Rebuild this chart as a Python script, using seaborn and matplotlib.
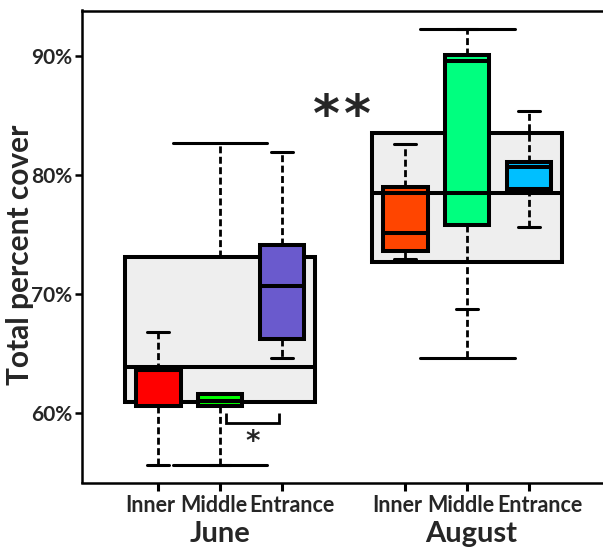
import matplotlib
matplotlib.use("Agg")
import matplotlib.pyplot as plt
import matplotlib.transforms as mtransforms
import numpy as np
import seaborn as sns
import pandas as pd

# ---------------- data (five-number summaries, % cover) ----
months = ["June", "August"]
month_pos = [1, 5]
sites = ["Inner", "Middle", "Entrance"]
site_pos = [0, 1, 2, 4, 5, 6]
site_keys = ["June Inner", "June Middle", "June Entrance",
             "August Inner", "August Middle", "August Entrance"]

# (min, q1, median, q3, max)
june_all = [55.6, 60.9, 63.85, 73.1, 82.65]
august_all = [64.6, 72.7, 78.45, 83.55, 92.3]

june_inner = [55.6, 60.6, 63.6, 63.6, 66.8]
june_middle = [55.6, 60.6, 61.0, 61.6, 61.6]
june_entrance = [64.6, 66.2, 70.7, 74.1, 81.9]
august_inner = [72.95, 73.65, 75.1, 79.0, 82.6]
august_middle = [68.75, 75.8, 89.55, 90.1, 92.3]
august_entrance = [75.65, 78.85, 80.7, 81.1, 85.4]

site_colors = ["#FF0000", "#00FF00", "#6A5ACD", "#FF4500", "#00FF7F", "#00BFFF"]
month_color = "#EEEEEE"

yticks = [60, 70, 80, 90]
ytick_labels = ["60%", "70%", "80%", "90%"]

# ---------------- tidy tables ----------------
month_df = pd.DataFrame({
    "pos": [month_pos[0]] * 5 + [month_pos[1]] * 5,
    "cover": june_all + august_all,
})
site_values = [june_inner, june_middle, june_entrance,
               august_inner, august_middle, august_entrance]
rows = []
for key, pos, vals in zip(site_keys, site_pos, site_values):
    for v in vals:
        rows.append({"pos": pos, "box": key, "cover": v})
site_df = pd.DataFrame(rows)

# ---------------- style ----------------
sns.set_theme(style="white")
plt.rcParams["font.family"] = ["Lato", "DejaVu Sans"]
plt.rcParams["font.weight"] = "bold"

DPI = 100
fig = plt.figure(figsize=(6.03, 5.49), dpi=DPI)
ax = fig.add_axes([81.5 / 603, 1 - 482.5 / 549, 1 - 81.5 / 603, 472 / 549])

LW = 2.9
WLW = 2.0
DASH = (2.5, 1.25)

sns.boxplot(data=month_df, x="pos", y="cover", native_scale=True,
            width=0.768, color=month_color, linecolor="black",
            linewidth=LW, whis=(0, 100), saturation=1, ax=ax,
            whiskerprops=dict(linestyle=(0, DASH), linewidth=WLW),
            capprops=dict(linewidth=2.2),
            medianprops=dict(linewidth=LW))
n_month_lines = len(ax.lines)

sns.boxplot(data=site_df, x="pos", y="cover", hue="box", native_scale=True,
            palette=dict(zip(site_keys, site_colors)), hue_order=site_keys,
            dodge=False, width=0.72, linecolor="black", linewidth=LW,
            whis=(0, 100), saturation=1, legend=False, ax=ax,
            whiskerprops=dict(linestyle=(0, DASH), linewidth=WLW),
            capprops=dict(linewidth=2.2),
            medianprops=dict(linewidth=LW))

ax.set_xlim(-1.243, 7.20)
ax.set_ylim(54.16, 93.82)

# --- where a site whisker lies on a month whisker, keep only one dashed line --
def is_whisker(line):
    x, y = np.asarray(line.get_xdata(), float), np.asarray(line.get_ydata(), float)
    return len(x) == 2 and np.isclose(x[0], x[1]) and not np.isclose(y[0], y[1])

month_wh = [l for l in ax.lines[:n_month_lines] if is_whisker(l)]
site_wh = [l for l in ax.lines[n_month_lines:] if is_whisker(l)]
for sw in site_wh:
    sx, sy = np.asarray(sw.get_xdata(), float), np.asarray(sw.get_ydata(), float)
    d = np.sign(sy[1] - sy[0])
    for mw in month_wh:
        mx, my = np.asarray(mw.get_xdata(), float), np.asarray(mw.get_ydata(), float)
        if not (np.isclose(sx[0], mx[0]) and np.sign(my[1] - my[0]) == d):
            continue
        a0, a1 = my[0] * d, my[1] * d
        b0, b1 = sy[0] * d, sy[1] * d
        if b0 <= a0 and b1 >= a1:
            mw.set_visible(False)
        elif b0 <= a0 < b1 < a1:
            mw.set_ydata([b1 * d, a1 * d])
        elif a0 < b0 < a1 <= b1:
            mw.set_ydata([a0 * d, b0 * d])

ax.set_xticks(site_pos)
ax.set_xticklabels(sites * 2)
ax.set_yticks(yticks)
ax.set_yticklabels(ytick_labels)
ax.set_xlabel("")
ax.set_ylabel("Total percent cover", fontsize=21.5, fontweight="bold")
ax.yaxis.set_label_coords(-0.092, 0.483)

ax.tick_params(axis="x", length=6, width=2.2, pad=3, labelsize=15.5,
               bottom=True, color="black")
ax.tick_params(axis="y", length=5, width=1.8, pad=1.5, labelsize=15,
               left=True, color="black")
for lab in ax.get_xticklabels() + ax.get_yticklabels():
    lab.set_fontweight("bold")

# the site names sit as one phrase under each month, slightly spread out
label_shift_px = [-8.5, -6.5, 10.5] * 2
for lab, dx in zip(ax.get_xticklabels(), label_shift_px):
    lab.set_transform(lab.get_transform() +
                      mtransforms.ScaledTranslation(dx / DPI, 0, fig.dpi_scale_trans))

for side in ["top", "left", "bottom"]:
    ax.spines[side].set_visible(True)
    ax.spines[side].set_linewidth(1.8)
    ax.spines[side].set_color("black")
ax.spines["right"].set_visible(False)

# month labels
trans = mtransforms.blended_transform_factory(ax.transData, ax.transAxes)
month_label_x = [1.0, 5.07]
for name, p in zip(months, month_label_x):
    ax.text(p, -0.1254, name, transform=trans, ha="center", va="baseline",
            fontsize=21, fontweight="bold")

# significance annotations
for dx in (-11.2, 11.2):   # points
    ax.annotate("*", xy=(2.97, 84.85), xytext=(dx, 0), textcoords="offset points",
                ha="center", va="center", fontsize=37, fontweight="bold",
                family="DejaVu Sans")
bx0, bx1, by, bt = 1.10, 1.96, 59.12, 60.0
ax.plot([bx0, bx0, bx1, bx1], [bt, by, by, bt], color="black", lw=2.0,
        solid_capstyle="butt", solid_joinstyle="miter")
ax.text((bx0 + bx1) / 2, 57.6, "*", ha="center", va="center", fontsize=20,
        fontweight="bold", family="DejaVu Sans")

fig.savefig("out.png", dpi=DPI)
